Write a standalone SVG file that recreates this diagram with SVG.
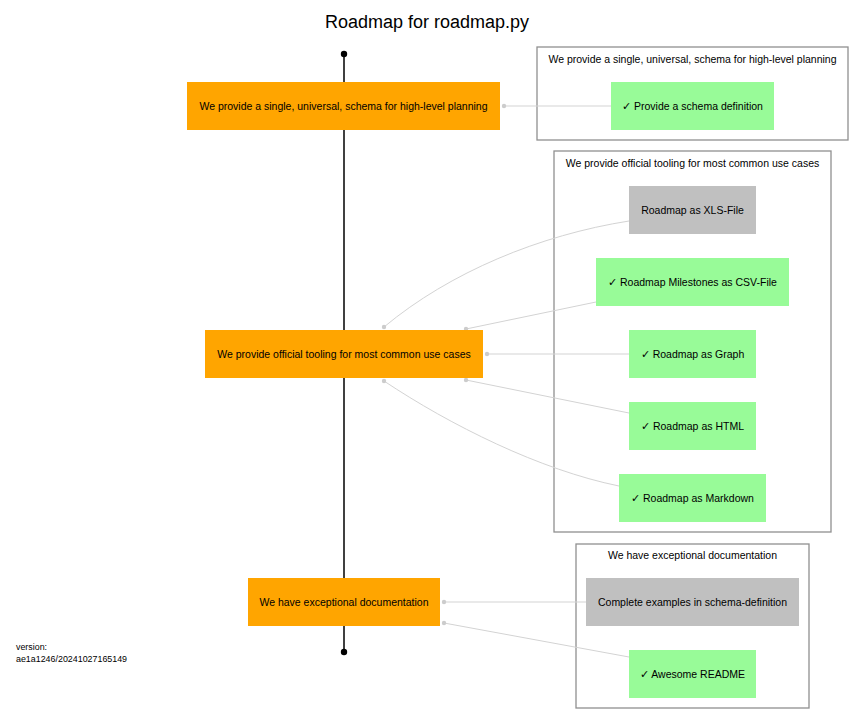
<svg xmlns="http://www.w3.org/2000/svg" width="854" height="725" viewBox="0 0 854 725">
<defs>
<style>
text{font-family:"Liberation Sans",Arial,sans-serif;fill:#000}
.t{font-size:10.5px;text-anchor:middle}
.title{font-size:18px;text-anchor:middle}
.ver{font-size:8.9px}
.o{fill:#ffa500}
.g{fill:#98fb98}
.s{fill:#c0c0c0}
.cl{fill:none;stroke:#909090;stroke-width:1.3}
.e{fill:none;stroke:#d3d3d3;stroke-width:1}
.d{fill:#cccccc}
</style>
</defs>
<rect width="854" height="725" fill="#fff"/>
<text class="title" x="427" y="28">Roadmap for roadmap.py</text>
<g id="timeline">
<line x1="344" y1="54" x2="344" y2="652" stroke="#000" stroke-width="1.5"/>
<circle cx="344" cy="54" r="3.2" fill="#000"/>
<circle cx="344" cy="652" r="3.2" fill="#000"/>
</g>
<g id="cluster1">
<rect class="cl" x="537" y="47" width="311" height="93"/>
<text class="t" x="692.5" y="63">We provide a single, universal, schema for high-level planning</text>
</g>
<g id="cluster2">
<rect class="cl" x="554" y="151" width="277" height="381"/>
<text class="t" x="692.5" y="167">We provide official tooling for most common use cases</text>
</g>
<g id="cluster3">
<rect class="cl" x="576" y="544" width="233" height="164"/>
<text class="t" x="692.5" y="559">We have exceptional documentation</text>
</g>
<g id="connectors">
<path class="e" d="M611,106 L504,106"/>
<circle class="d" cx="504" cy="106" r="2.2"/>
<path class="e" d="M629,221 C540,235 450,272 384,327"/>
<circle class="d" cx="384" cy="327" r="2.2"/>
<path class="e" d="M596,302 L466,329"/>
<circle class="d" cx="466" cy="329" r="2.2"/>
<path class="e" d="M629,354 L487,354"/>
<circle class="d" cx="487" cy="354" r="2.2"/>
<path class="e" d="M629,413 L466,380"/>
<circle class="d" cx="466" cy="380" r="2.2"/>
<path class="e" d="M619,486 C540,470 450,425 384,381"/>
<circle class="d" cx="384" cy="381" r="2.2"/>
<path class="e" d="M586,602 L444,602"/>
<circle class="d" cx="444" cy="602" r="2.2"/>
<path class="e" d="M629,657 L444,623"/>
<circle class="d" cx="444" cy="623" r="2.2"/>
</g>
<g id="milestone1">
<rect class="o" x="187" y="82" width="313" height="48"/>
<text class="t" x="343.5" y="110">We provide a single, universal, schema for high-level planning</text>
</g>
<g id="milestone2">
<rect class="o" x="205" y="330" width="278" height="48"/>
<text class="t" x="344" y="358">We provide official tooling for most common use cases</text>
</g>
<g id="milestone3">
<rect class="o" x="248" y="578" width="192" height="48"/>
<text class="t" x="344" y="606">We have exceptional documentation</text>
</g>
<g id="schema">
<rect class="g" x="611" y="82" width="163" height="48"/>
<text class="t" x="692.5" y="110">✓ Provide a schema definition</text>
</g>
<g id="xls">
<rect class="s" x="629" y="186" width="127" height="48"/>
<text class="t" x="692.5" y="214">Roadmap as XLS-File</text>
</g>
<g id="csv">
<rect class="g" x="596" y="258" width="193" height="48"/>
<text class="t" x="692.5" y="286">✓ Roadmap Milestones as CSV-File</text>
</g>
<g id="graph">
<rect class="g" x="629" y="330" width="127" height="48"/>
<text class="t" x="692.5" y="358">✓ Roadmap as Graph</text>
</g>
<g id="html">
<rect class="g" x="629" y="402" width="127" height="48"/>
<text class="t" x="692.5" y="430">✓ Roadmap as HTML</text>
</g>
<g id="markdown">
<rect class="g" x="619" y="474" width="147" height="48"/>
<text class="t" x="692.5" y="502">✓ Roadmap as Markdown</text>
</g>
<g id="examples">
<rect class="s" x="586" y="578" width="213" height="48"/>
<text class="t" x="692.5" y="606">Complete examples in schema-definition</text>
</g>
<g id="readme">
<rect class="g" x="629" y="650" width="127" height="48"/>
<text class="t" x="692.5" y="678">✓ Awesome README</text>
</g>
<text class="ver" x="16" y="650">version:</text>
<text class="ver" x="16" y="662">ae1a1246/20241027165149</text>
</svg>
